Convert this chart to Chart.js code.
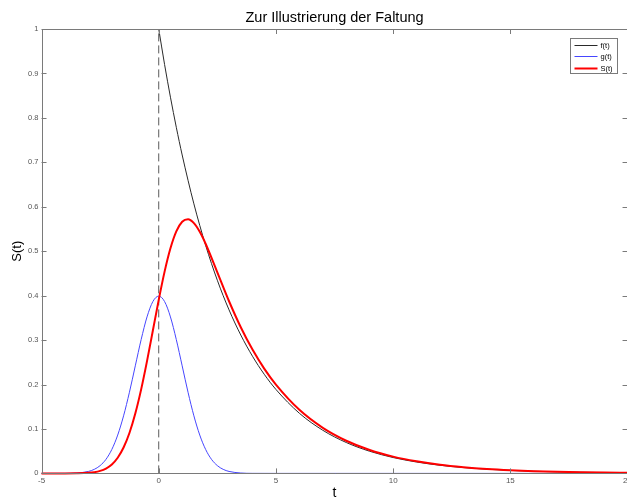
<!DOCTYPE html>
<html>
<head>
<meta charset="utf-8">
<script src="https://cdn.jsdelivr.net/npm/chart.js@4"></script>
<style>
  html, body { margin: 0; padding: 0; background: #fff; overflow: hidden; }
  #wrap { position: relative; width: 635px; height: 498px; }
</style>
</head>
<body>
<div id="wrap"><canvas id="c"></canvas></div>
<script>
// f(t): decaying exponential, switched on at t = 0
const tF = [0, 0.25, 0.5, 0.75, 1, 1.5, 2, 2.5, 3, 3.5, 4, 4.5, 5, 6, 7, 8, 9, 10, 11, 12, 13, 14, 15, 16, 17, 18, 19, 20];
const fVals = [1, 0.9200, 0.8465, 0.7788, 0.7165, 0.6065, 0.5134, 0.4346, 0.3679, 0.3114, 0.2636, 0.2231, 0.1889, 0.1353, 0.0970, 0.0695, 0.0498, 0.0357, 0.0256, 0.0183, 0.0131, 0.0094, 0.0067, 0.0048, 0.0035, 0.0025, 0.0018, 0.0013];

// g(t): bell-shaped pulse centred on t = 0
const tG = [-5, -4, -3.5, -3, -2.75, -2.5, -2.25, -2, -1.75, -1.5, -1.25, -1, -0.75, -0.5, -0.25, 0, 0.25, 0.5, 0.75, 1, 1.25, 1.5, 1.75, 2, 2.25, 2.5, 2.75, 3, 3.5, 4, 5, 20];
const gVals = [0, 0.0001, 0.0009, 0.0044, 0.0091, 0.0175, 0.0317, 0.0540, 0.0863, 0.1295, 0.1826, 0.2420, 0.3011, 0.3521, 0.3867, 0.3989, 0.3867, 0.3521, 0.3011, 0.2420, 0.1826, 0.1295, 0.0863, 0.0540, 0.0317, 0.0175, 0.0091, 0.0044, 0.0009, 0.0001, 0, 0];

// S(t): result of the convolution
const tS = [-5, -4, -3.5, -3, -2.75, -2.5, -2.25, -2, -1.75, -1.5, -1.25, -1, -0.75, -0.5, -0.25, 0, 0.25, 0.5, 0.75, 1, 1.25, 1.5, 1.75, 2, 2.5, 3, 3.5, 4, 4.5, 5, 6, 7, 8, 9, 10, 11, 12, 13, 14, 15, 16, 17, 18, 19, 20];
const sVals = [0, 0.0000, 0.0002, 0.0012, 0.0027, 0.0056, 0.0110, 0.0202, 0.0353, 0.0582, 0.0909, 0.1346, 0.1891, 0.2527, 0.3215, 0.3905, 0.4540, 0.5066, 0.5446, 0.5662, 0.5717, 0.5631, 0.5437, 0.5168, 0.4525, 0.3874, 0.3289, 0.2786, 0.2358, 0.1997, 0.1430, 0.1025, 0.0735, 0.0526, 0.0377, 0.0271, 0.0193, 0.0139, 0.0099, 0.0071, 0.0051, 0.0037, 0.0026, 0.0019, 0.0014];

// marker line at t = 0
const tMark = [0, 0];
const markVals = [0, 1];

const xTicks = [-5, 0, 5, 10, 15, 20];
const yTicks = [0, 0.1, 0.2, 0.3, 0.4, 0.5, 0.6, 0.7, 0.8, 0.9, 1];

const pts = (xs, ys) => xs.map((x, i) => ({ x: x, y: ys[i] }));

const FONT = "'Liberation Sans', Arial, sans-serif";

// box with inward ticks on all four sides, plus the legend
const frame = {
  id: 'frame',
  afterDatasetsDraw(chart) {
    const { ctx, chartArea: a, scales } = chart;
    ctx.save();
    ctx.strokeStyle = '#7a7a7a';
    ctx.lineWidth = 1;
    ctx.beginPath();
    ctx.rect(Math.round(a.left) + 0.5, Math.round(a.top) + 0.5, Math.round(a.right - a.left), Math.round(a.bottom - a.top));
    ctx.stroke();
    const L = 5;
    ctx.beginPath();
    xTicks.forEach(v => {
      const px = Math.round(scales.x.getPixelForValue(v)) + 0.5;
      ctx.moveTo(px, a.bottom); ctx.lineTo(px, a.bottom - L);
      ctx.moveTo(px, a.top); ctx.lineTo(px, a.top + L);
    });
    yTicks.forEach(v => {
      const py = Math.round(scales.y.getPixelForValue(v)) + 0.5;
      ctx.moveTo(a.left, py); ctx.lineTo(a.left + L, py);
      ctx.moveTo(a.right, py); ctx.lineTo(a.right - L, py);
    });
    ctx.stroke();
    ctx.restore();
  },
  afterDraw(chart) {
    const { ctx, chartArea: a } = chart;
    const ds = chart.data.datasets.filter(d => d.inLegend);
    const bx = Math.round(a.right) - 58 + 0.5, by = Math.round(a.top) + 9 + 0.5;
    const bw = 47, bh = 35;
    ctx.save();
    ctx.fillStyle = '#fff';
    ctx.fillRect(bx, by, bw, bh);
    ctx.strokeStyle = '#7a7a7a';
    ctx.lineWidth = 1;
    ctx.strokeRect(bx, by, bw, bh);
    ctx.font = '7.5px ' + FONT;
    ctx.textBaseline = 'middle';
    ctx.fillStyle = '#000';
    ds.forEach((d, i) => {
      const y = Math.round(by + 6 + i * 11.5) + 0.5;
      ctx.strokeStyle = d.borderColor;
      ctx.lineWidth = d.borderWidth;
      ctx.beginPath();
      ctx.moveTo(bx + 4, y); ctx.lineTo(bx + 27, y);
      ctx.stroke();
      ctx.fillText(d.label, bx + 30, y);
    });
    ctx.restore();
  }
};

new Chart(document.getElementById('c'), {
  type: 'scatter',
  data: {
    datasets: [
      { label: 'f(t)', inLegend: true, data: pts(tF, fVals), showLine: true, borderColor: '#2a2a2a', borderWidth: 1, pointRadius: 0, cubicInterpolationMode: 'monotone', clip: 3, order: 3 },
      { label: 'g(t)', inLegend: true, data: pts(tG, gVals), showLine: true, borderColor: '#4646ff', borderWidth: 1, pointRadius: 0, cubicInterpolationMode: 'monotone', clip: 3, order: 2 },
      { label: 'S(t)', inLegend: true, data: pts(tS, sVals), showLine: true, borderColor: '#ff0000', borderWidth: 2, pointRadius: 0, cubicInterpolationMode: 'monotone', clip: 3, order: 1 },
      { label: 't = 0', inLegend: false, data: pts(tMark, markVals), showLine: true, borderColor: '#5a5a5a', borderWidth: 1, borderDash: [8, 4], pointRadius: 0, clip: 3, order: 4 }
    ]
  },
  options: {
    responsive: true,
    maintainAspectRatio: false,
    animation: false,
    layout: { padding: { left: 9.5, right: 0, top: 0, bottom: -2 } },
    plugins: {
      legend: { display: false },
      tooltip: { enabled: false },
      title: {
        display: true,
        fullSize: false,
        text: 'Zur Illustrierung der Faltung',
        color: '#000',
        font: { family: FONT, size: 14.5, weight: 'normal' },
        padding: { top: 9, bottom: 2.6 }
      }
    },
    scales: {
      x: {
        type: 'linear', min: -5, max: 20,
        afterBuildTicks: s => { s.ticks = xTicks.map(v => ({ value: v })); },
        ticks: { color: '#555', font: { family: FONT, size: 8 }, padding: 3, maxRotation: 0, callback: v => String(v) },
        grid: { display: false, drawTicks: false },
        border: { display: false },
        title: { display: true, text: 't', color: '#000', font: { family: FONT, size: 14, lineHeight: 1 }, padding: { top: -3, bottom: 0 } }
      },
      y: {
        type: 'linear', min: 0, max: 1,
        afterBuildTicks: s => { s.ticks = yTicks.map(v => ({ value: v })); },
        ticks: { color: '#555', font: { family: FONT, size: 7.5 }, padding: 3, callback: v => String(Math.round(v * 10) / 10) },
        grid: { display: false, drawTicks: false },
        border: { display: false },
        title: { display: true, text: 'S(t)', color: '#000', font: { family: FONT, size: 13 }, padding: { top: 0, bottom: 0 } }
      }
    }
  },
  plugins: [frame]
});
</script>
</body>
</html>
